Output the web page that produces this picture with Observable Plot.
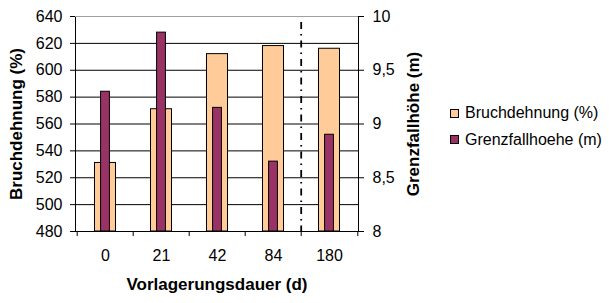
<!DOCTYPE html>
<html>
<head>
<meta charset="utf-8">
<script src="https://cdn.jsdelivr.net/npm/d3@7"></script>
<script src="https://cdn.jsdelivr.net/npm/@observablehq/plot@0.6"></script>
<style>
  html, body { margin: 0; padding: 0; background: #fff; }
  #wrap { position: relative; width: 609px; height: 303px; font-family: "Liberation Sans", Arial, sans-serif; }
  #legend { position: absolute; left: 450px; top: 100px; font-size: 16px; color: #000; }
  #legend .item { display: flex; align-items: center; height: 26.5px; }
  #legend .sw { width: 7px; height: 7px; border: 1px solid #000; margin-right: 6px; }
</style>
</head>
<body>
<div id="wrap"><div id="legend"></div></div>
<script>
const categories = ["0", "21", "42", "84", "180"];
const bruchdehnung = [531, 571, 612, 618, 616];
const grenzfallhoehe = [9.30, 9.85, 9.15, 8.65, 8.90];
const leftTicks = [480, 500, 520, 540, 560, 580, 600, 620, 640];
const rightTicks = [8, 8.5, 9, 9.5, 10];
const rightTickLabels = ["8", "8,5", "9", "9,5", "10"];
const separatorBefore = "180";
const seriesNames = ["Bruchdehnung (%)", "Grenzfallhoehe (m)"];
const seriesColors = ["#FFCC99", "#993366"];

const W = 609, H = 303;
const mL = 75, mR = 251, mT = 16, mB = 72;
const bw = (W - mL - mR) / categories.length;

const yDom = [d3.min(leftTicks), d3.max(leftTicks)];
const toLeft = d3.scaleLinear([d3.min(rightTicks), d3.max(rightTicks)], yDom);
const labelFor = new Map(rightTicks.map((t, i) => [toLeft(t), rightTickLabels[i]]));

const data = categories.map((c, i) => ({cat: c, b: bruchdehnung[i], g: grenzfallhoehe[i]}));

const chart = Plot.plot({
  width: W, height: H,
  marginLeft: mL, marginRight: mR, marginTop: mT, marginBottom: mB,
  style: {fontFamily: "'Liberation Sans', Arial, sans-serif", fontSize: "16px", color: "#000", background: "transparent", overflow: "visible"},
  x: {domain: categories, padding: 0, axis: null},
  y: {domain: yDom, axis: null},
  marks: [
    Plot.ruleY(leftTicks.slice(1, -1), {stroke: "#000", strokeWidth: 1}),
    Plot.frame({stroke: "#000"}),
    Plot.ruleY([yDom[1]], {stroke: "#a0a0a0"}),
    Plot.barY(data, {x: "cat", y1: yDom[0], y2: "b", fill: seriesColors[0], stroke: "#000", strokeWidth: 1, insetLeft: 17.5, insetRight: 17.5}),
    Plot.barY(data, {x: "cat", y1: yDom[0], y2: d => toLeft(d.g), fill: seriesColors[1], stroke: "#000", strokeWidth: 1, insetLeft: 23.6, insetRight: 23.6}),
    Plot.ruleX([separatorBefore], {dx: -bw / 2, insetTop: 6, stroke: "#000", strokeWidth: 1.8, strokeDasharray: "7,5,1.5,5"}),
    // left axis
    Plot.axisY({anchor: "left", ticks: leftTicks, tickSize: 5, tickPadding: 8, fontSize: 16, label: null}),
    // right axis
    Plot.axisY({anchor: "right", ticks: rightTicks.map(toLeft), tickFormat: d => labelFor.get(d), tickSize: 5, tickPadding: 9, fontSize: 16, label: null}),
    // category boundary ticks
    Plot.axisX({ticks: categories, tickSize: 5, tickFormat: () => "", dx: -bw / 2, label: null}),
    Plot.axisX({ticks: categories.slice(-1), tickSize: 5, tickFormat: () => "", dx: bw / 2, label: null}),
    // category labels
    Plot.axisX({ticks: categories, tickSize: 0, tickPadding: 18, fontSize: 16, label: null}),
    // axis titles
    Plot.text(["Vorlagerungsdauer (d)"], {frameAnchor: "bottom", dy: 58, fontSize: 17, fontWeight: "bold"}),
    Plot.text(["Bruchdehnung (%)"], {frameAnchor: "left", textAnchor: "middle", dx: -59, rotate: -90, fontSize: 17, fontWeight: "bold"}),
    Plot.text(["Grenzfallhöhe (m)"], {frameAnchor: "right", textAnchor: "middle", dx: 55.5, rotate: -90, fontSize: 17, fontWeight: "bold"})
  ]
});
const wrap = document.getElementById("wrap");
chart.style.position = "absolute";
chart.style.left = "0px";
chart.style.top = "0px";
wrap.insertBefore(chart, wrap.firstChild);

const legend = document.getElementById("legend");
seriesNames.forEach((n, i) => {
  const it = document.createElement("div");
  it.className = "item";
  const sw = document.createElement("div");
  sw.className = "sw";
  sw.style.background = seriesColors[i];
  const t = document.createElement("span");
  t.textContent = n;
  it.appendChild(sw); it.appendChild(t);
  legend.appendChild(it);
});
</script>
</body>
</html>
